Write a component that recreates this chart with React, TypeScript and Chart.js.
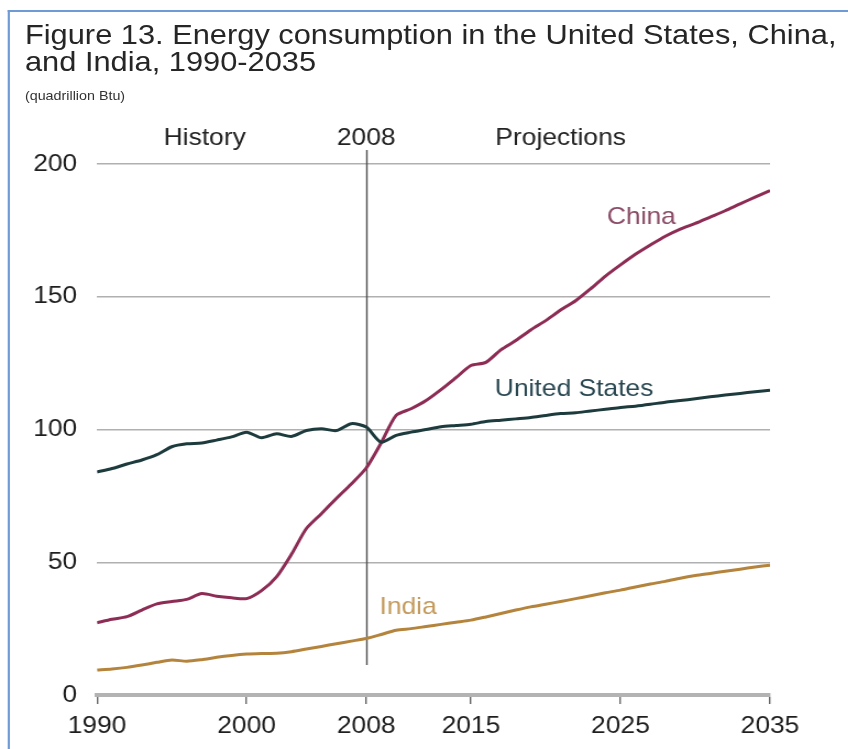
import React, { useEffect, useRef } from "react";
import { Chart, registerables } from "chart.js";

Chart.register(...registerables);

// ---------- data ----------
const YEARS = [
  1990, 1991, 1992, 1993, 1994, 1995, 1996, 1997, 1998, 1999,
  2000, 2001, 2002, 2003, 2004, 2005, 2006, 2007, 2008, 2009,
  2010, 2011, 2012, 2013, 2014, 2015, 2016, 2017, 2018, 2019,
  2020, 2021, 2022, 2023, 2024, 2025, 2026, 2027, 2028, 2029,
  2030, 2031, 2032, 2033, 2034, 2035,
];

const UNITED_STATES = [
  84.0, 85.3, 87.0, 88.5, 90.5, 93.5, 94.6, 94.9, 96.0, 97.2,
  99.0, 96.9, 98.4, 97.4, 99.6, 100.3, 99.6, 102.2, 100.9, 95.2,
  97.8, 99.0, 100.0, 101.0, 101.5, 102.0, 103.0, 103.5, 104.0, 104.5,
  105.3, 106.0, 106.3, 107.0, 107.6, 108.3, 108.8, 109.5, 110.3, 110.9,
  111.6, 112.3, 113.0, 113.6, 114.2, 114.8,
];

const CHINA = [
  27.2, 28.5, 29.5, 32.0, 34.3, 35.2, 36.0, 38.2, 37.2, 36.6,
  36.3, 39.3, 44.5, 53.0, 62.7, 68.3, 74.0, 79.5, 85.5, 95.0,
  105.3, 107.8, 110.9, 115.0, 119.5, 124.1, 125.3, 130.0, 133.5, 137.5,
  141.0, 145.0, 148.5, 153.0, 157.8, 162.0, 166.0, 169.5, 172.8, 175.5,
  177.6, 180.0, 182.4, 185.0, 187.5, 190.0,
];

const INDIA = [
  9.4, 9.8, 10.4, 11.3, 12.3, 13.2, 12.7, 13.3, 14.2, 14.9,
  15.4, 15.6, 15.7, 16.3, 17.3, 18.3, 19.3, 20.3, 21.3, 22.8,
  24.4, 25.0, 25.8, 26.6, 27.4, 28.2, 29.4, 30.7, 32.0, 33.2,
  34.2, 35.2, 36.3, 37.4, 38.5, 39.5, 40.7, 41.8, 42.8, 44.0,
  45.0, 45.8, 46.6, 47.4, 48.2, 48.9,
];

const X_TICKS = [1990, 2000, 2008, 2015, 2025, 2035];
const Y_TICKS = [0, 50, 100, 150, 200];

const SERIES_NAMES = ["United States", "China", "India"];
const SERIES_LABEL_YEARS = [2021.9, 2026.4, 2010.8];
const SERIES_LABEL_VALUES = [115.3, 180.0, 33.1];

const PERIOD_LABELS = ["History", "2008", "Projections"];
const PERIOD_LABEL_YEARS = [1997.2, 2008, 2021.0];

const DIVIDER_YEAR = 2008;
const DIVIDER_FROM = 11.3;
const DIVIDER_TO = 205.3;

const TITLE_LINES = [
  "Figure 13. Energy consumption in the United States, China,",
  "and India, 1990-2035",
];
const SUBTITLE = "(quadrillion Btu)";

// ---------- styles ----------
const STRETCH = 1.1;
const INNER_W = 848 / STRETCH;
const FONT = '"Liberation Sans", Arial, Helvetica, sans-serif';
const LINE_COLORS = ["#1d3b3d", "#8d2c54", "#b4843c"];
const LABEL_COLORS = ["#2a4852", "#8a4c66", "#c49a5c"];

const overlayPlugin = {
  id: "overlay",
  beforeDatasetsDraw(chart: any) {
    const { ctx, scales } = chart;
    const x = scales.x;
    const y = scales.y;
    const dx = Math.round(x.getPixelForValue(DIVIDER_YEAR)) + 0.5;
    ctx.save();
    ctx.strokeStyle = "#4d4d4d";
    ctx.lineWidth = 1.4;
    ctx.beginPath();
    ctx.moveTo(dx, y.getPixelForValue(DIVIDER_TO));
    ctx.lineTo(dx, y.getPixelForValue(DIVIDER_FROM));
    ctx.stroke();
    ctx.restore();
  },
  afterDatasetsDraw(chart: any) {
    const { ctx, scales, chartArea } = chart;
    const x = scales.x;
    const y = scales.y;
    ctx.save();
    ctx.font = `24px ${FONT}`;
    ctx.textAlign = "center";
    ctx.textBaseline = "alphabetic";
    ctx.fillStyle = "#222";
    PERIOD_LABELS.forEach((t, i) => {
      ctx.fillText(t, x.getPixelForValue(PERIOD_LABEL_YEARS[i]), chartArea.top - 19);
    });
    ctx.textBaseline = "middle";
    SERIES_NAMES.forEach((t, i) => {
      ctx.fillStyle = LABEL_COLORS[i];
      ctx.fillText(
        t,
        x.getPixelForValue(SERIES_LABEL_YEARS[i]),
        y.getPixelForValue(SERIES_LABEL_VALUES[i])
      );
    });
    ctx.restore();
  },
};

export default function App() {
  const canvasRef = useRef<HTMLCanvasElement>(null);

  useEffect(() => {
    const series = [UNITED_STATES, CHINA, INDIA];
    const chart = new Chart(canvasRef.current as HTMLCanvasElement, {
      type: "line",
      data: {
        datasets: series.map((vals, i) => ({
          label: SERIES_NAMES[i],
          data: YEARS.map((yr, j) => ({ x: yr, y: vals[j] })),
          borderColor: LINE_COLORS[i],
          backgroundColor: LINE_COLORS[i],
          borderWidth: 3,
          pointRadius: 0,
          tension: 0.25,
          fill: false,
        })),
      },
      options: {
        animation: false,
        responsive: false,
        devicePixelRatio: 1,
        layout: { padding: { top: 49, right: 71, left: 0, bottom: 0 } },
        plugins: {
          legend: { display: false },
          tooltip: { enabled: false },
          title: { display: false },
        },
        scales: {
          x: {
            type: "linear",
            min: 1990,
            max: 2035,
            afterBuildTicks: (s: any) => {
              s.ticks = X_TICKS.map((v) => ({ value: v }));
            },
            afterFit: (s: any) => {
              s.height = 54;
            },
            grid: {
              drawOnChartArea: false,
              drawTicks: true,
              tickLength: 9,
              color: "#666",
              lineWidth: 1.4,
            },
            border: { display: true, color: "#b3b3b3", width: 4 },
            ticks: {
              autoSkip: false,
              maxRotation: 0,
              padding: 8,
              color: "#1e1e1e",
              font: { family: FONT, size: 24 },
              callback: (v: any) => String(v),
            },
          },
          y: {
            min: 0,
            max: 200,
            afterBuildTicks: (s: any) => {
              s.ticks = Y_TICKS.map((v) => ({ value: v }));
            },
            afterFit: (s: any) => {
              s.width = 88.2;
            },
            grid: { color: "#b0b0b0", lineWidth: 1.4, drawTicks: false },
            border: { display: false },
            ticks: {
              padding: 18,
              color: "#1e1e1e",
              font: { family: FONT, size: 24 },
              callback: (v: any) => String(v),
            },
          },
        },
      },
      plugins: [overlayPlugin],
    } as any);
    return () => chart.destroy();
  }, []);

  return (
    <div
      style={{
        position: "absolute",
        left: 0,
        top: 0,
        width: 848,
        height: 749,
        overflow: "hidden",
        background: "#fff",
      }}
    >
      <div
        style={{
          position: "absolute",
          left: 0,
          top: 0,
          width: INNER_W,
          height: 749,
          transform: `scaleX(${STRETCH})`,
          transformOrigin: "0 0",
        }}
      >
        <div
          style={{
            position: "absolute",
            left: 7,
            top: 10,
            right: 0,
            bottom: 0,
            borderTop: "2px solid #6e9bd6",
            borderLeft: "2px solid #6e9bd6",
          }}
        />
        <div
          style={{
            position: "absolute",
            left: 22.7,
            top: 21,
            fontFamily: FONT,
            fontSize: 28,
            lineHeight: "27px",
            color: "#262626",
            whiteSpace: "nowrap",
          }}
        >
          {TITLE_LINES.map((l, i) => (
            <div key={i}>{l}</div>
          ))}
        </div>
        <div
          style={{
            position: "absolute",
            left: 22.7,
            top: 88,
            fontFamily: FONT,
            fontSize: 13,
            lineHeight: "15px",
            color: "#333",
            whiteSpace: "nowrap",
          }}
        >
          {SUBTITLE}
        </div>
        <canvas
          ref={canvasRef}
          width={Math.round(INNER_W)}
          height={634}
          style={{
            position: "absolute",
            left: 0,
            top: 115,
            width: Math.round(INNER_W),
            height: 634,
            display: "block",
          }}
        />
      </div>
    </div>
  );
}
